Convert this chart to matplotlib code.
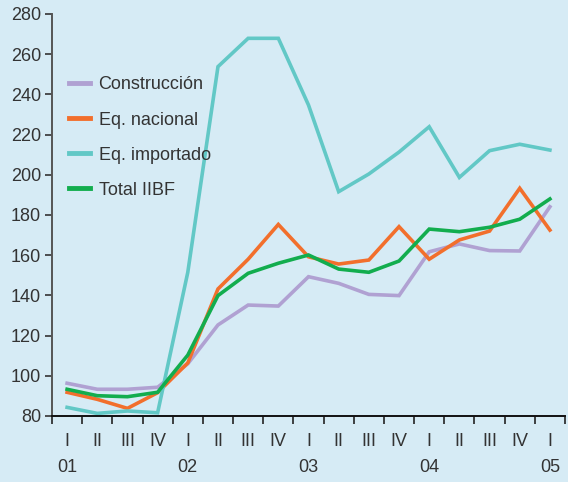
import matplotlib
matplotlib.use("Agg")
import matplotlib.pyplot as plt
from matplotlib.lines import Line2D
import matplotlib.font_manager as fm

quarters = ["I", "II", "III", "IV"] * 4 + ["I"]
years = ["01", "", "", "", "02", "", "", "", "03", "", "", "", "04", "", "", "", "05"]

construccion = [96.3, 93.3, 93.3, 94.3, 106, 125.3, 135.2, 134.7, 149.3, 146, 140.5, 139.9,
                161.7, 165.6, 162.3, 162.1, 184.1]
eq_nacional = [91.8, 88.3, 83.8, 91.6, 106.4, 143.2, 158, 175.3, 159.2, 155.6, 157.6, 174.2,
               158, 167.6, 172, 193.3, 172.5]
eq_importado = [84.3, 81.3, 82.5, 81.6, 151.5, 253.8, 267.9, 267.9, 234.7, 191.6, 200.4, 211.3,
                223.9, 198.7, 212, 215.2, 212.3]
total_iibf = [93.3, 90.1, 89.6, 91.8, 110.3, 139.9, 151, 156, 160.1, 153.1, 151.5, 157.1,
              173, 171.7, 173.9, 177.9, 188]

series = [
    ("Construcción", construccion, "#b0a1d2"),
    ("Eq. nacional", eq_nacional, "#f26f2c"),
    ("Eq. importado", eq_importado, "#62c8c6"),
    ("Total IIBF", total_iibf, "#12ad4e"),
]

names = {f.name for f in fm.fontManager.ttflist}
fam = "Liberation Sans Narrow" if "Liberation Sans Narrow" in names else "Liberation Sans"
plt.rcParams["font.family"] = [fam, "DejaVu Sans"]

bg = "#d6ebf5"
fig = plt.figure(figsize=(5.68, 4.82), dpi=100, facecolor=bg)
ax = fig.add_axes([52 / 568, 1 - 416 / 482, (565 - 52) / 568, (416 - 14) / 482])
ax.set_facecolor(bg)

n = len(quarters)
xs = [i + 0.5 for i in range(n)]
for name, vals, col in series:
    ax.plot(xs, vals, color=col, lw=2.6, solid_joinstyle="miter", label=name)

ax.set_xlim(0, n)
ax.set_ylim(80, 280)
ax.set_yticks(range(80, 281, 20))
ax.tick_params(axis="y", labelsize=13, colors="#333333", length=5, width=1.2, direction="out", pad=3)
for lab in ax.get_yticklabels():
    lab.set_color("#333333")

ax.set_xticks(range(0, n + 1))
ax.set_xticklabels([])
ax.tick_params(axis="x", which="major", length=6, width=1.2, direction="out", color="#222222")
ax.set_xticks(xs, minor=True)
ax.set_xticklabels([f"{q}\n{y}" for q, y in zip(quarters, years)], minor=True)
ax.tick_params(axis="x", which="minor", length=0, labelsize=13, pad=12, labelcolor="#333333")
for lab in ax.get_xticklabels(minor=True):
    lab.set_linespacing(1.75)
    lab.set_verticalalignment("top")

for s in ["top", "right"]:
    ax.spines[s].set_visible(False)
ax.spines["left"].set_color("#555555")
ax.spines["left"].set_linewidth(1.4)
ax.spines["bottom"].set_color("#111111")
ax.spines["bottom"].set_linewidth(1.4)

handles = [Line2D([], [], color=c, lw=3.5) for _, _, c in series]
leg = ax.legend(handles, [s[0] for s in series], loc="upper left",
                bbox_to_anchor=(0.001, 0.885), frameon=False, fontsize=13,
                handlelength=1.2, handletextpad=0.45, labelspacing=1.0)
for t in leg.get_texts():
    t.set_color("#333333")

fig.savefig("out.png", dpi=100, facecolor=bg)
